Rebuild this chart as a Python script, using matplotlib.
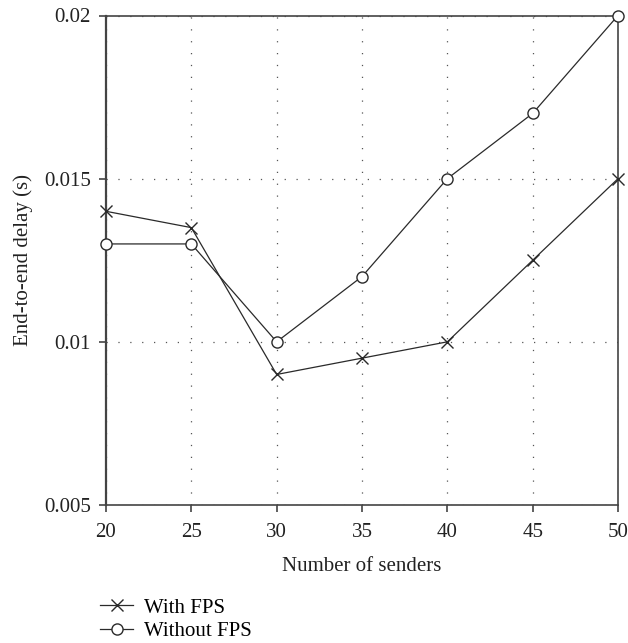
import matplotlib
matplotlib.use("Agg")
import matplotlib.pyplot as plt

# Data
senders = [20, 25, 30, 35, 40, 45, 50]
with_fps = [0.014, 0.0135, 0.009, 0.0095, 0.010, 0.0125, 0.015]
without_fps = [0.013, 0.013, 0.010, 0.012, 0.015, 0.017, 0.020]
y_ticks = [0.005, 0.01, 0.015, 0.02]
y_tick_labels = ["0.005", "0.01", "0.015", "0.02"]
x_label = "Number of senders"
y_label = "End-to-end delay (s)"
series_labels = ["With FPS", "Without FPS"]

plt.rcParams["font.family"] = ["Liberation Serif", "DejaVu Serif"]
plt.rcParams["font.size"] = 15

W, H = 628, 643
fig = plt.figure(figsize=(W / 100, H / 100), dpi=100)
ax = fig.add_axes([106 / W, 1 - 505 / H, (618 - 106) / W, (505 - 15.5) / H])

ink = "#2a2a2a"
l1, = ax.plot(senders, with_fps, color=ink, lw=0.9, marker="x", ms=8,
              mew=1.0, mfc="white", label=series_labels[0], zorder=3, clip_on=False)
l2, = ax.plot(senders, without_fps, color=ink, lw=0.9, marker="o", ms=8,
              mew=1.0, mfc="white", label=series_labels[1], zorder=3, clip_on=False)

ax.set_xlim(20, 50)
ax.set_ylim(0.005, 0.02)
ax.set_xticks(senders)
ax.set_yticks(y_ticks)
ax.set_yticklabels(y_tick_labels)

ax.grid(True, linestyle=(0, (1, 8.5)), color="#555555", linewidth=0.9)
for s in ax.spines.values():
    s.set_color("#444444")
    s.set_linewidth(1.2)
ax.spines["left"].set_linewidth(1.6)
ax.tick_params(direction="out", length=5, width=1.2, color="#444444",
               labelcolor="#222222")
ax.tick_params(axis="y", pad=6)
ax.tick_params(axis="x", pad=8)

ax.set_xlabel(x_label, color="#222222", labelpad=11)
ax.set_ylabel(y_label, color="#222222", labelpad=8)

fig.legend(handles=[l1, l2], loc="upper left", bbox_to_anchor=(100 / W, 1 - 598 / H),
           frameon=False, handlelength=1.6, handletextpad=0.5, labelspacing=0.2,
           borderpad=0, borderaxespad=0)

fig.savefig("out.png", dpi=100)
